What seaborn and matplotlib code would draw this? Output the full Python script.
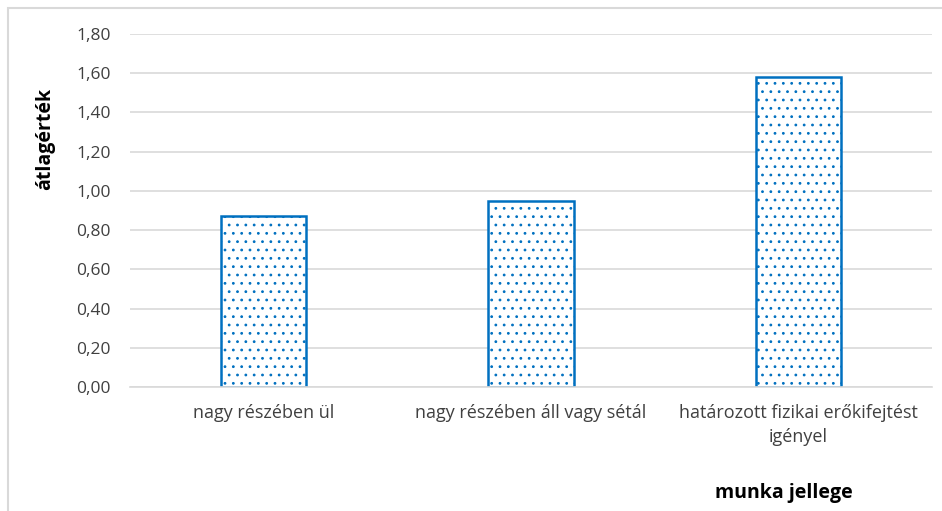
import matplotlib
matplotlib.use("Agg")
import matplotlib.pyplot as plt
import seaborn as sns
import pandas as pd
from matplotlib.patches import Rectangle

categories = ["nagy részében ül", "nagy részében áll vagy sétál",
              "határozott fizikai erőkifejtést\nigényel"]
values = [0.87, 0.95, 1.58]
yticks = [0.0, 0.2, 0.4, 0.6, 0.8, 1.0, 1.2, 1.4, 1.6, 1.8]
ytick_labels = ["0,00", "0,20", "0,40", "0,60", "0,80", "1,00", "1,20", "1,40", "1,60", "1,80"]

sns.set_theme(style="white")
plt.rcParams['font.family'] = ['Open Sans', 'DejaVu Sans']
plt.rcParams['hatch.color'] = '#5B9BD5'
plt.rcParams['hatch.linewidth'] = 0.8

df = pd.DataFrame({"cat": categories, "val": values})

fig = plt.figure(figsize=(9.42, 5.11), dpi=100)
ax = fig.add_axes([130/942, 1 - 387/511, (932-130)/942, (387-34)/511])

sns.barplot(data=df, x="cat", y="val", ax=ax, width=0.32,
            color="white", edgecolor="#0070C0", linewidth=1.8, saturation=1)
for p in ax.patches:
    p.set_hatch('..')
    p.set_facecolor('white')

ax.set_ylim(0, 1.8)
ax.set_xlim(-0.5, 2.5)
ax.set_yticks(yticks)
ax.set_yticklabels(ytick_labels, fontsize=12.5, color='#404040')
ax.tick_params(axis='x', labelsize=13, colors='#404040', length=0, pad=12)
ax.tick_params(axis='y', length=0, pad=14)
for lbl in ax.get_xticklabels():
    lbl.set_linespacing(1.45)
ax.yaxis.grid(True, color='#D9D9D9', linewidth=1.2)
ax.set_axisbelow(True)
for s in ["top", "right", "left"]:
    ax.spines[s].set_visible(False)
ax.spines["bottom"].set_color('#D9D9D9')
ax.spines["bottom"].set_linewidth(1.2)

ax.set_xlabel("")
ax.set_ylabel("")
fig.text(45/942, 1 - 139/511, "átlagérték", rotation=90, fontsize=14,
         fontweight='bold', ha='center', va='center', color='black')
fig.text(784/942, 1 - 493/511, "munka jellege", fontsize=14,
         fontweight='bold', ha='center', va='center', color='black')

fig.patches.append(Rectangle((8/942, -0.1), 1.2, 1.1 - 8/511,
                             transform=fig.transFigure, fill=False,
                             edgecolor='#D9D9D9', linewidth=1.5))

fig.savefig("out.png", dpi=100)
